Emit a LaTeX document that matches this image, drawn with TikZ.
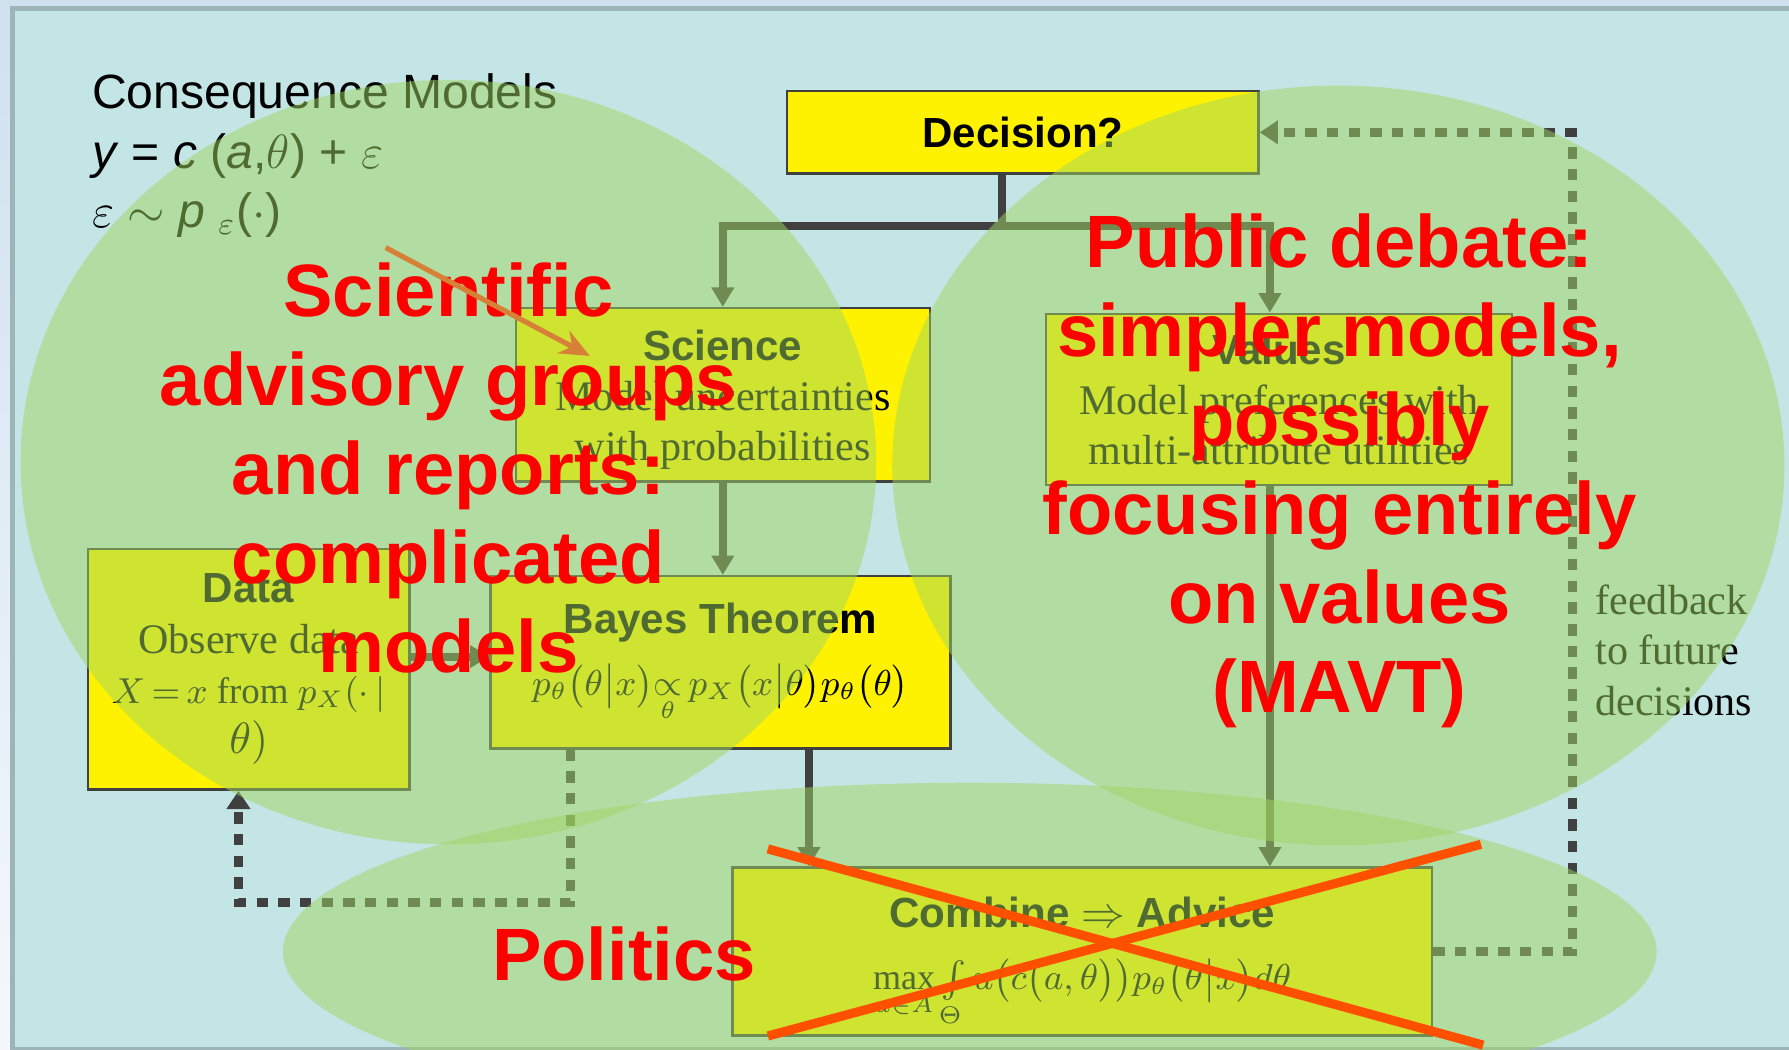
\documentclass[tikz,border=0pt]{standalone}
\usepackage{amsmath,amssymb}
\usepackage{fontspec}
\setmainfont{Liberation Serif}
\setsansfont{Liberation Sans}
\usepackage{tikz}
\usetikzlibrary{positioning, arrows.meta}

\definecolor{slidebg}{RGB}{196,229,230}
\definecolor{framegrey}{RGB}{157,181,184}
\definecolor{linegrey}{RGB}{64,64,64}
\definecolor{blobgreen}{RGB}{160,214,98}
\definecolor{crossorange}{RGB}{255,80,0}
\definecolor{pointer}{RGB}{214,128,56}

\newcommand{\boxhead}[1]{\textsf{\textbf{#1}}}
\newcommand{\mathsmall}{\fontsize{9}{12}\selectfont}

\begin{document}
\begin{tikzpicture}[
  stage/.style={draw=linegrey, line width=0.6pt, fill=yellow, align=center,
    font=\fontsize{10.5}{12.5}\selectfont, inner sep=2pt},
  link/.style={-{Triangle[length=1.7mm,width=1.9mm]}, draw=linegrey, line width=0.7mm},
  fback/.style={-{Triangle[length=1.6mm,width=2mm]}, draw=linegrey, line width=0.75mm,
    dash pattern=on 1mm off 0.9mm},
  blob/.style={fill=blobgreen, fill opacity=0.5},
  remark/.style={text=red, align=center, font=\sffamily\bfseries\fontsize{18.5}{22.2}\selectfont}
]
\useasboundingbox (0,0) rectangle (15.68,-9.20);
\clip (0,0) rectangle (15.68,-9.20);

% Slide background and frame
\shade[top color={rgb,255:red,208;green,225;blue,238}, bottom color={rgb,255:red,244;green,248;blue,252}]
  (0,0) rectangle (15.68,-9.20);
\draw[framegrey, line width=0.45mm, fill=slidebg] (0.11,-0.075) rectangle (15.95,-9.20);

% Model text
\node[anchor=north west, align=left, inner sep=0, font=\sffamily\fontsize{12}{14.8}\selectfont]
  (cmodel) at (0.80,-0.64)
  {Consequence Models\\
   \textit{y} = \textit{c} (\textit{a},$\theta$) + $\varepsilon$\\
   $\varepsilon$ $\sim$ \textit{p} $_{\varepsilon}$($\cdot$)};

% Boxes
\node[stage, minimum width=4.13cm, minimum height=0.72cm] (decision) at (8.965,-1.16) {\boxhead{Decision?}};
\node[stage, minimum width=3.63cm, minimum height=1.52cm] (science) at (6.335,-3.46)
  {\boxhead{\rule{0pt}{10pt}Science}\\Model uncertainties\\with probabilities};
\node[stage, minimum width=4.08cm, minimum height=1.50cm] (values) at (11.21,-3.50)
  {\boxhead{Values}\\Model preferences with\\multi-attribute utilities};
\node[stage, minimum width=4.03cm, minimum height=1.51cm] (bayes) at (6.315,-5.805)
  {\boxhead{Bayes Theorem}\\[3pt]
   {\mathsmall $p_\theta\bigl(\theta\big|x\bigr){\underset{\theta}{\propto}}\,p_X\bigl(x\big|\theta\bigr)p_\theta\bigl(\theta\bigr)$}};
\node[stage, minimum width=2.82cm, minimum height=2.11cm] (data) at (2.18,-5.865)
  {\boxhead{Data}\\Observe data\\{\fontsize{9.2}{12.5}\selectfont $X\,{=}\,x$ from $p_X(\cdot\,|$}\\$\theta)$};
\node[stage, minimum width=6.13cm, minimum height=1.42cm] (combine) at (9.485,-8.34)
  {\boxhead{\rule{0pt}{13pt}Combine $\Rightarrow$ Advice}\\[3pt]
   {\mathsmall $\max\limits_{a\in A}\int\limits_{\Theta}u\bigl(c\bigl(a,\theta\bigr)\bigr)p_\theta\bigl(\theta\big|x\bigr)d\theta$}};

% Connectors
\draw[linegrey, line width=0.7mm] ([xshift=-1.85mm]decision.south) -- ++(0,-0.45) coordinate (split);
\draw[link] (split) -| (science.north);
\draw[link] (split) -| ([xshift=-0.8mm]values.north);
\draw[link] (science.south) -- (science.south |- bayes.north);
\draw[link] ([yshift=1.1mm]data.east) -- ([yshift=1.1mm]data.east -| bayes.west);
\draw[link] ([xshift=7.75mm]bayes.south) -- ([xshift=7.75mm]bayes.south |- combine.north);
\draw[link] ([xshift=-0.8mm]values.south) -- ([xshift=-0.8mm]values.south |- combine.north);

% Feedback loops
\draw[fback] ([xshift=7.1mm]bayes.south west) -- ++(0,-1.34) -| ([xshift=-0.9mm]data.south);
\draw[fback] (combine.east) -- ++(1.22,0) |- (decision.east);
\node[align=left, anchor=west, font=\fontsize{10.5}{12.5}\selectfont] (fbnote) at (13.86,-5.70)
  {feedback\\to future\\decisions};

% Overlays
\fill[blob] (3.93,-4.05) ellipse [x radius=3.75, y radius=3.35];
\fill[blob] (11.73,-4.08) ellipse [x radius=3.91, y radius=3.33];
\fill[blob] (8.50,-8.34) ellipse [x radius=6.02, y radius=1.48];

% Annotations
\node[remark] (sciadv) at (3.93,-4.10) {Scientific\\advisory groups\\and reports:\\complicated\\models};
\node[remark] (pubdeb) at (11.74,-4.13) {Public debate:\\simpler models,\\possibly\\focusing entirely\\on values\\(MAVT)};
\node[remark] (politics) at (5.47,-8.36) {Politics};

\draw[-{Stealth[length=2.6mm,width=2.2mm]}, pointer, line width=0.45mm] (3.38,-2.17) -- (5.17,-3.12);

% Crossed out
\draw[crossorange, line width=0.8mm] (6.73,-7.44) -- (13.00,-9.16);
\draw[crossorange, line width=0.8mm] (6.73,-9.08) -- (12.98,-7.40);

\end{tikzpicture}
\end{document}
